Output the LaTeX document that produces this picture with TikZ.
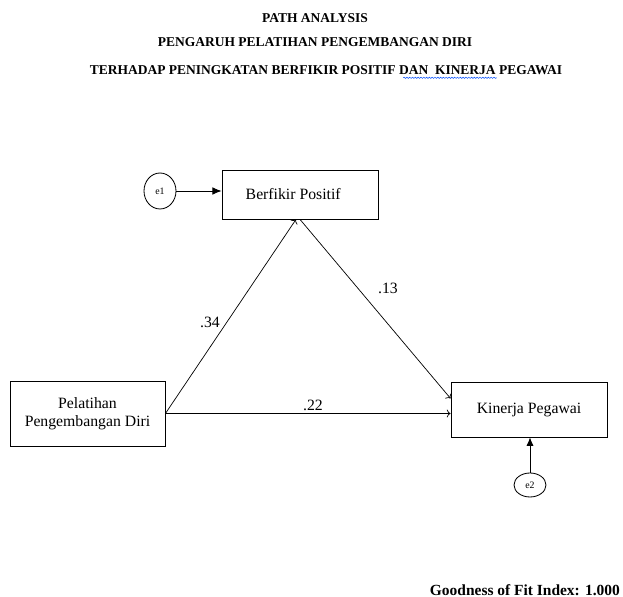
\documentclass[tikz,border=0pt]{standalone}
\usepackage{fontspec}
\setmainfont{Liberation Serif}
\usetikzlibrary{decorations.pathmorphing, shapes.geometric, calc, arrows.meta}

\begin{document}
\begin{tikzpicture}[every node/.style={font=\fontsize{11.2}{13}\selectfont},
    varbox/.style={draw, line width=0.6pt, inner sep=0pt},
    errnode/.style={draw, ellipse, line width=0.6pt, inner sep=0pt, font=\fontsize{7}{8}\selectfont},
    titletxt/.style={font=\fontsize{9.6}{11}\selectfont\bfseries}]

    \useasboundingbox (0,0) rectangle (15.575,14.925);

    % Title lines
    \node[titletxt] (t1) at (7.875,14.475) {PATH ANALYSIS};
    \node[titletxt] (t2) at (7.875,13.875) {PENGARUH PELATIHAN PENGEMBANGAN DIRI};
    \node[titletxt] (t3) at (8.15,13.175) {TERHADAP PENINGKATAN BERFIKIR POSITIF DAN\ \ KINERJA PEGAWAI};
    \draw[blue!70!cyan, line width=0.35pt, decorate, decoration={snake, amplitude=0.45pt, segment length=2pt}]
        (10.08,12.98) -- (12.42,12.98);

    % Variable boxes
    \node[varbox, minimum width=3.9cm, minimum height=1.225cm] (bp) at (7.5,10.0625) {};
    \node at (7.33,10.0625) {Berfikir Positif};
    \node[varbox, minimum width=3.875cm, minimum height=1.625cm, align=center] (pel) at (2.1875,4.5875)
        {Pelatihan\\Pengembangan Diri};
    \node[varbox, minimum width=3.9cm, minimum height=1.375cm] (kp) at (13.225,4.6875) {Kinerja Pegawai};

    % Error terms
    \node[errnode, minimum width=0.8cm, minimum height=0.9cm] (e1) at (4.0,10.15) {e1};
    \node[errnode, minimum width=0.8cm, minimum height=0.6cm] (e2) at (13.25,2.8) {e2};
    \draw[line width=0.6pt, -{Latex[length=2.3mm, width=1.9mm]}] (e1.east) -- (e1.east -| bp.west);
    \draw[line width=0.6pt, -{Latex[length=2.1mm, width=1.8mm]}] (e2.north) -- (e2.north |- kp.south);

    % Paths
    \draw[line width=0.5pt, ->] (pel.east) -- ($(bp.south)+(-0.1,0)$);
    \draw[line width=0.5pt, ->] (bp.south) -- (kp.172);
    \draw[line width=0.5pt, ->] (pel.east) -- (pel.east -| kp.west);
    \node (p34) at (5.25,6.875) {.34};
    \node (p13) at (9.7,7.725) {.13};
    \node (p22) at (7.825,4.8) {.22};

    % Fit index
    \node[anchor=east, font=\fontsize{11}{13}\selectfont\bfseries] (gfi) at (15.62,0.175) {Goodness of Fit Index: 1.000};

\end{tikzpicture}
\end{document}
